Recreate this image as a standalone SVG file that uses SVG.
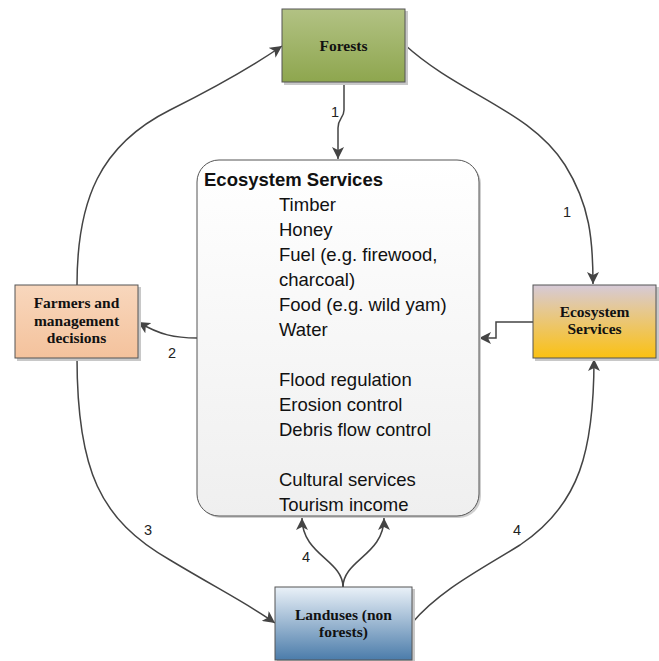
<svg xmlns="http://www.w3.org/2000/svg" width="659" height="661" viewBox="0 0 659 661">
<defs>
<linearGradient id="gF" x1="0" y1="0" x2="0" y2="1"><stop offset="0" stop-color="#b2c284"/><stop offset="1" stop-color="#8ea64e"/></linearGradient>
<linearGradient id="gM" x1="0" y1="0" x2="0" y2="1"><stop offset="0" stop-color="#f8d7bd"/><stop offset="1" stop-color="#f4c29c"/></linearGradient>
<linearGradient id="gE" x1="0" y1="0" x2="0" y2="1"><stop offset="0" stop-color="#d6cad8"/><stop offset="0.35" stop-color="#e6c890"/><stop offset="1" stop-color="#fbc112"/></linearGradient>
<linearGradient id="gL" x1="0" y1="0" x2="0" y2="1"><stop offset="0" stop-color="#eaf1f8"/><stop offset="1" stop-color="#4b7caa"/></linearGradient>
<linearGradient id="gC" x1="0" y1="0" x2="0" y2="1"><stop offset="0" stop-color="#ffffff"/><stop offset="1" stop-color="#efefef"/></linearGradient>
<marker id="ar" viewBox="0 0 12 12" refX="12" refY="6" markerWidth="12" markerHeight="12" markerUnits="userSpaceOnUse" orient="auto"><path d="M0,0 L12,6 L0,12 L3,6 z" fill="#444"/></marker>
<style>
.box{stroke:#555;stroke-width:1}
.sh{fill:#c8c8c8}
.nt{font-family:"Liberation Serif","Times New Roman",serif;font-weight:bold;font-size:15.5px;fill:#111;text-anchor:middle}
.ct{font-family:"Liberation Sans",Arial,sans-serif;font-size:18.5px;fill:#111}
.hd{font-weight:bold}
.lb{font-family:"Liberation Sans",Arial,sans-serif;font-size:14.5px;fill:#222}
.cn{fill:none;stroke:#444;stroke-width:1.5}
</style>
</defs>
<rect width="659" height="661" fill="#fff"/>
<g id="connectors">
<path class="cn" d="M344,83 L344,110 C344,118 338,118 338,128 L338,159" marker-end="url(#ar)"/>
<path class="cn" d="M405,45 C460,95 530,110 565,165 C590,205 593,240 593,284" marker-end="url(#ar)"/>
<path class="cn" d="M77,285 C77,200 100,145 170,110 C210,90 250,68 282,46" marker-end="url(#ar)"/>
<path class="cn" d="M197,338 C175,338 160,335 138,322" marker-end="url(#ar)"/>
<path class="cn" d="M533,322 L496,322 L496,338 L479,338" marker-end="url(#ar)"/>
<path class="cn" d="M77,358 C77,470 100,520 170,560 C220,590 250,605 275,623" marker-end="url(#ar)"/>
<path class="cn" d="M412,623 C440,590 480,570 520,545 C580,505 594,450 594,359" marker-end="url(#ar)"/>
<path class="cn" d="M343,587 C343,560 302,555 302,518" marker-end="url(#ar)"/>
<path class="cn" d="M343,587 C343,560 384,555 384,518" marker-end="url(#ar)"/>
<text class="lb" x="331" y="117">1</text>
<text class="lb" x="563" y="217">1</text>
<text class="lb" x="168" y="358">2</text>
<text class="lb" x="144" y="535">3</text>
<text class="lb" x="513" y="535">4</text>
<text class="lb" x="302" y="562">4</text>
</g>
<g id="forests">
<rect class="sh" x="284" y="11" width="124" height="74"/>
<rect class="box" x="282" y="9" width="123" height="73" fill="url(#gF)"/>
<text class="nt" x="343.5" y="51">Forests</text>
</g>
<g id="farmers">
<rect class="sh" x="17" y="287" width="124" height="74"/>
<rect class="box" x="15" y="285" width="123" height="73" fill="url(#gM)"/>
<text class="nt" x="76.5" y="308">Farmers and</text>
<text class="nt" x="76.5" y="325.5">management</text>
<text class="nt" x="76.5" y="343">decisions</text>
</g>
<g id="ecoservices-right">
<rect class="sh" x="535" y="287" width="124" height="74"/>
<rect class="box" x="533" y="285" width="123" height="73" fill="url(#gE)"/>
<text class="nt" x="594.5" y="316.5">Ecosystem</text>
<text class="nt" x="594.5" y="334">Services</text>
</g>
<g id="landuses">
<rect class="sh" x="277" y="589" width="138" height="74"/>
<rect class="box" x="275" y="587" width="137" height="73" fill="url(#gL)"/>
<text class="nt" x="343.5" y="620">Landuses (non</text>
<text class="nt" x="343.5" y="637">forests)</text>
</g>
<g id="ecoservices-center">
<rect x="199" y="162" width="282" height="356" rx="22" fill="#cfcfcf"/>
<rect class="box" x="197" y="160" width="282" height="356" rx="22" fill="url(#gC)" stroke="#666"/>
<text class="ct hd" x="204" y="186">Ecosystem Services</text>
<text class="ct" x="279" y="211">Timber</text>
<text class="ct" x="279" y="236">Honey</text>
<text class="ct" x="279" y="261">Fuel (e.g. firewood,</text>
<text class="ct" x="279" y="286">charcoal)</text>
<text class="ct" x="279" y="311">Food (e.g. wild yam)</text>
<text class="ct" x="279" y="336">Water</text>
<text class="ct" x="279" y="386">Flood regulation</text>
<text class="ct" x="279" y="411">Erosion control</text>
<text class="ct" x="279" y="436">Debris flow control</text>
<text class="ct" x="279" y="486">Cultural services</text>
<text class="ct" x="279" y="511">Tourism income</text>
</g>
</svg>
